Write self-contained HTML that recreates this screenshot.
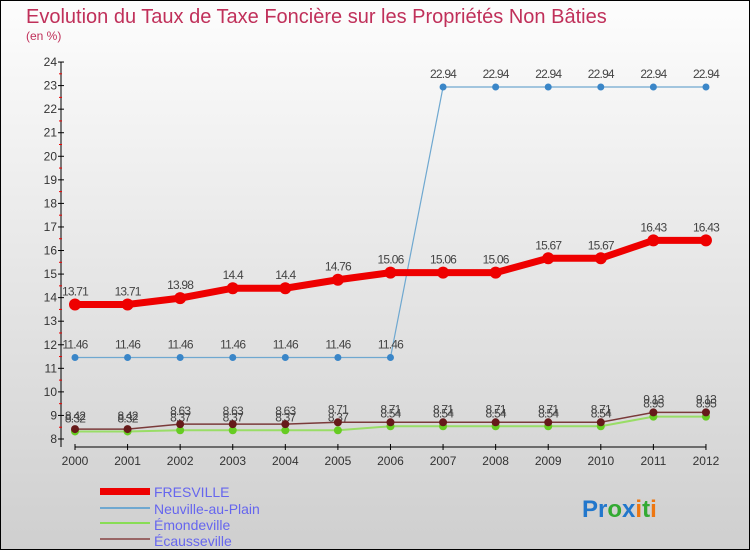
<!DOCTYPE html>
<html><head><meta charset="utf-8"><style>
body{margin:0;width:750px;height:550px;overflow:hidden;font-family:"Liberation Sans",sans-serif}
</style></head><body>
<svg id="c" width="750" height="550" xmlns="http://www.w3.org/2000/svg">
<defs><linearGradient id="bg" x1="0" y1="0" x2="0" y2="1"><stop offset="0" stop-color="#fdfdfd"/><stop offset="1" stop-color="#cfcfcf"/></linearGradient></defs>
<rect x="0.5" y="0.5" width="749" height="549" fill="url(#bg)" stroke="#000"/>
<text x="26" y="23" font-size="20" fill="#c0305a">Evolution du Taux de Taxe Foncière sur les Propriétés Non Bâties</text>
<text x="26" y="40" font-size="12" fill="#c0305a">(en %)</text>
<g id="axes"></g><g id="series"></g>
<g>
<rect x="100" y="488" width="50" height="7" fill="#e00"/>
<text x="154" y="497" font-size="14" fill="#6666ee">FRESVILLE</text>
<rect x="100" y="507" width="50" height="2" fill="#6fa8d0"/>
<text x="154" y="514" font-size="14" fill="#6666ee">Neuville-au-Plain</text>
<rect x="100" y="522" width="50" height="2" fill="#88dd55"/>
<text x="154" y="530" font-size="14" fill="#6666ee">Émondeville</text>
<rect x="100" y="538" width="50" height="2" fill="#996666"/>
<text x="154" y="546" font-size="14" fill="#6666ee">Écausseville</text>
</g>
<text x="582" y="517" font-size="24" font-weight="bold"><tspan fill="#2277cc">Pr</tspan><tspan fill="#33aa33">o</tspan><tspan fill="#2277cc">x</tspan><tspan fill="#ee7711">i</tspan><tspan fill="#33aa33">t</tspan><tspan fill="#ee7711">i</tspan></text>
</svg>
<script>
const years=[2000,2001,2002,2003,2004,2005,2006,2007,2008,2009,2010,2011,2012];
const yTicks=[8,9,10,11,12,13,14,15,16,17,18,19,20,21,22,23,24];
const fresville=[13.71,13.71,13.98,14.4,14.4,14.76,15.06,15.06,15.06,15.67,15.67,16.43,16.43];
const neuville=[11.46,11.46,11.46,11.46,11.46,11.46,11.46,22.94,22.94,22.94,22.94,22.94,22.94];
const emondeville=[8.32,8.32,8.37,8.37,8.37,8.37,8.54,8.54,8.54,8.54,8.54,8.95,8.95];
const ecausseville=[8.42,8.42,8.63,8.63,8.63,8.71,8.71,8.71,8.71,8.71,8.71,9.13,9.13];
const NS='http://www.w3.org/2000/svg';
const X=i=>75+i*52.58, Y=v=>439-(v-8)*23.56;
function mk(t,a,p){const e=document.createElementNS(NS,t);for(const k in a)e.setAttribute(k,a[k]);p.appendChild(e);return e;}
const ax=document.getElementById('axes');
const yl=mk('line',{x1:61,y1:62,x2:61,y2:447,stroke:'#000'},ax);

yTicks.forEach(v=>{mk('line',{x1:58,x2:64,y1:Y(v),y2:Y(v),stroke:'#000'},ax);
 if(v<24)mk('line',{x1:59,x2:62,y1:Y(v+0.5),y2:Y(v+0.5),stroke:'#e00'},ax);
 const t=mk('text',{x:57,y:Y(v)+4,'font-size':12,'text-anchor':'end',fill:'#333'},ax);t.textContent=v;
 });
const xl=mk('line',{x1:75,y1:447,x2:706,y2:447,stroke:'#000'},ax);

years.forEach((y,i)=>{mk('line',{x1:X(i),x2:X(i),y1:444,y2:450,stroke:'#000'},ax);
 const t=mk('text',{x:X(i),y:465,'font-size':12,'text-anchor':'middle',fill:'#333'},ax);t.textContent=y;
 });
const sg=document.getElementById('series');
function series(d,name,col,w,dotc,r){
 const g=mk('g',{},sg);
 const pts=d.map((v,i)=>X(i)+','+Y(v)).join(' ');
 mk('polyline',{points:pts,fill:'none',stroke:col,'stroke-width':w},g);
 d.forEach((v,i)=>{const c=mk('circle',{cx:X(i),cy:Y(v),r:r,fill:dotc},g);
  
  const t=mk('text',{x:X(i),y:Y(v)-9,'font-size':12,'text-anchor':'middle',fill:'#444','letter-spacing':'-0.8'},g);t.textContent=v;
  });
}
series(neuville,'neuville','#6fa8d0',1.2,'#3a86c8',3.5);
series(emondeville,'emondeville','#99dd66',2,'#66cc22',4);
series(ecausseville,'ecausseville','#7a3a3a',1.5,'#661a1a',4);
series(fresville,'fresville','#ee0000',7,'#ee0000',6);
</script>
</body></html>
